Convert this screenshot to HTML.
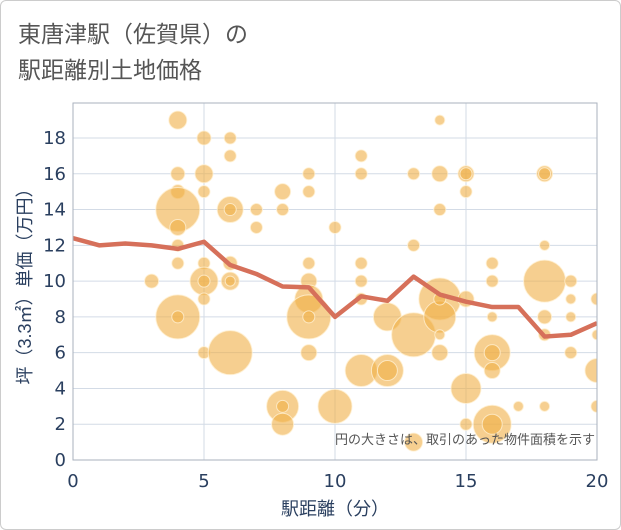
<!DOCTYPE html>
<html><head><meta charset="utf-8"><style>
body{margin:0;background:#fff;}
#wrap{position:relative;width:619px;height:528px;border:1px solid #ccc;border-radius:6px;overflow:hidden;font-family:"Liberation Sans","Noto Sans CJK JP",sans-serif;}
.title{position:absolute;left:17px;font-size:23px;color:#555;}
</style></head><body>
<div id="wrap">
<div class="title" style="top:14px">東唐津駅（佐賀県）の</div>
<div class="title" style="top:50px">駅距離別土地価格</div>
<svg id="chart" width="621" height="530" style="position:absolute;left:-1px;top:-1px"></svg>
</div>
<script>
const lineX=[0,1,2,3,4,5,6,7,8,9,10,11,12,13,14,15,16,17,18,19,20];
const lineY=[12.4,12.0,12.1,12.0,11.8,12.2,10.9,10.4,9.7,9.65,8.0,9.15,8.9,10.25,9.25,8.85,8.55,8.55,6.9,7.0,7.65];
const bubbleX=[4,4,4,4,4,4,4,4,4,3,5,5,5,5,5,5,5,5,6,6,6,6,6,6,6,6,7,7,8,8,8,8,8,9,9,9,9,9,9,9,9,10,10,11,11,11,11,11,11,12,12,12,13,13,13,13,14,14,14,14,14,14,14,14,15,15,15,15,15,15,16,16,16,16,16,16,16,16,17,18,18,18,18,18,18,18,19,19,19,19,20,20,20,20];
const bubbleY=[19,16,15,14,13,12,11,8,8,10,18,16,15,11,10,10,9,6,18,17,14,14,11,10,10,6,14,13,15,14,3,3,2,16,15,11,10,9,8,8,6,13,3,17,16,11,10,9,5,8,5,5,16,12,7,1,19,16,14,9,8,9,7,6,16,16,15,9,4,2,11,10,8,6,6,5,2,2,3,16,16,12,10,8,7,3,10,9,8,6,9,7,5,3];
const bubbleSize=[9,7,7,22,8,6,6,22,6,7,7,9,6,6,14,6,6,6,6,6,13,6,7,9,5,22,6,6,8,6,16,6,11,6,6,6,8,14,22,6,8,6,17,6,6,6,6,6,16,14,16,10,6,6,22,9,5,8,6,21,16,6,5,8,8,6,6,8,15,6,6,6,5,18,8,8,19,10,5,8,6,5,21,7,6,5,6,5,5,6,6,5,12,6];
const xTicks=[0,5,10,15,20];
const yTicks=[0,2,4,6,8,10,12,14,16,18];
const L=73,R=597,T=103,B=460;
const xs=v=>L+(v-0)/(20-0)*(R-L);
const ys=v=>B-(v-0)/18*(B-138);
const svg=document.getElementById('chart');
const NS='http://www.w3.org/2000/svg';
function mk(t,a){const e=document.createElementNS(NS,t);for(const k in a)e.setAttribute(k,a[k]);svg.appendChild(e);return e;}
const defs=mk('defs',{});
const cp=document.createElementNS(NS,'clipPath');cp.setAttribute('id','pc');
const cr=document.createElementNS(NS,'rect');cr.setAttribute('x',L);cr.setAttribute('y',T);cr.setAttribute('width',R-L);cr.setAttribute('height',B-T);
cp.appendChild(cr);defs.appendChild(cp);
yTicks.forEach(v=>{
 const g=mk('line',{x1:L,x2:R,y1:ys(v),y2:ys(v),stroke:'#d3dbe6','stroke-width':1});
 
 
 const t=mk('text',{x:66,y:ys(v)+6,'text-anchor':'end','font-size':18,fill:'#2a3f5f','font-family':'"DejaVu Sans",sans-serif'});
 t.textContent=v;
 
 
});
xTicks.forEach(v=>{
 const g=mk('line',{x1:xs(v),x2:xs(v),y1:T,y2:B,stroke:'#d3dbe6','stroke-width':1});
 
 
 const t=mk('text',{x:xs(v),y:487,'text-anchor':'middle','font-size':18,fill:'#2a3f5f','font-family':'"DejaVu Sans",sans-serif'});
 t.textContent=v;
 
 
});
const gb=mk('g',{'clip-path':'url(#pc)'});


bubbleX.forEach((x,i)=>{
 const c=document.createElementNS(NS,'circle');
 c.setAttribute('cx',xs(x));c.setAttribute('cy',ys(bubbleY[i]));c.setAttribute('r',bubbleSize[i]);
 c.setAttribute('fill','rgba(240,175,70,0.6)');c.setAttribute('stroke','rgba(255,240,210,0.8)');c.setAttribute('stroke-width',1);
 
 
 gb.appendChild(c);
});
const p=mk('polyline',{points:lineX.map((x,i)=>xs(x)+','+ys(lineY[i])).join(' '),fill:'none',stroke:'#d6705a','stroke-width':4.5,'stroke-linejoin':'round','clip-path':'url(#pc)'});


const fr=mk('rect',{x:L,y:T,width:R-L,height:B-T,fill:'none',stroke:'#aab2bd','stroke-width':1});


const an=mk('text',{x:595,y:444,'text-anchor':'end','font-size':13,fill:'#555'});
an.textContent='円の大きさは、取引のあった物件面積を示す';


const xt=mk('text',{x:335,y:515,'text-anchor':'middle','font-size':18,fill:'#2a3f5f'});
xt.textContent='駅距離（分）';


const yt=mk('text',{x:0,y:0,'text-anchor':'middle','font-size':18,fill:'#2a3f5f',transform:'translate(31,282) rotate(-90)'});
yt.textContent='坪（3.3㎡）単価（万円）';


</script>
</body></html>
